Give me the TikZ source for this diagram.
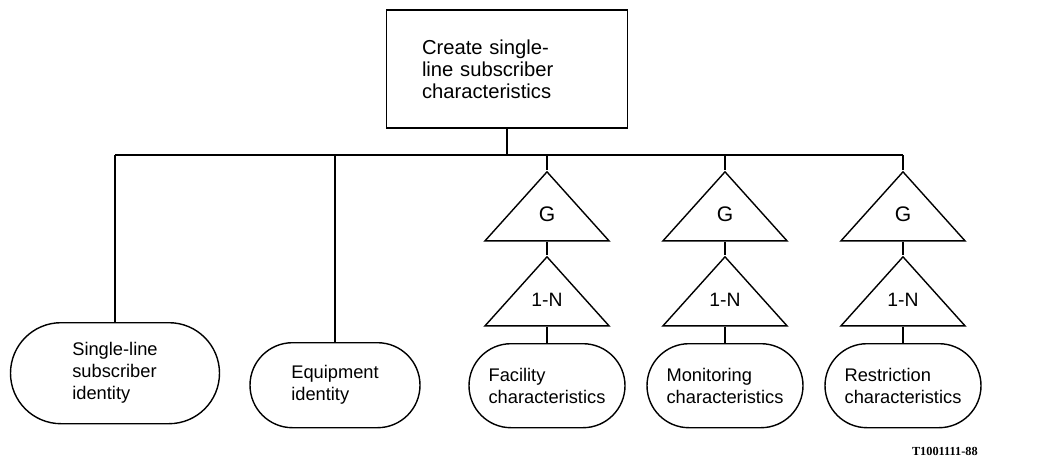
\documentclass[tikz,border=0pt]{standalone}
\usepackage{fontspec}
\setmainfont{Liberation Sans}
\newfontfamily\kodafont{Liberation Serif}
\usetikzlibrary{shapes.misc,shapes.geometric}
\tikzset{%
	crta/.style={black, line width=0.8pt},
	glava/.style={crta, draw, rectangle, minimum width=48.2mm, minimum height=23.6mm, text width=34mm, align=left, inner sep=0pt, font=\fontsize{11.5}{12.5}\selectfont},
	list/.style={crta, draw, rounded rectangle, align=left, inner sep=0pt, font=\fontsize{10.4}{12.5}\selectfont},
	trikotnik/.style={crta, draw, isosceles triangle, shape border rotate=90, isosceles triangle stretches, minimum width=24.8mm, minimum height=13.8mm, inner sep=0pt},
}

\begin{document}
\begin{tikzpicture}[x=0.2mm, y=-0.2mm]
			\useasboundingbox (0,0) rectangle (1039,461);
			
			%KOREN
			\node[glava] (koren) at (507,69) {Create single-\\line subscriber\\characteristics};
			
			%VODILO
			\coordinate (vodL) at (115,155);
			\coordinate (vodD) at (903,155);
			\draw[crta] (koren.south) -- (koren.south |- vodL);
			\draw[crta] (vodL) -- (vodD);
			
			%LISTI
			\node[list, minimum width=41.8mm, minimum height=20.2mm, anchor=north] (ident) at (115,322) {Single-line\\subscriber\\identity};
			\node[list, minimum width=34mm, minimum height=17mm, anchor=north] (oprema) at (335,342) {Equipment\\identity};
			\draw[crta] (vodL) -- (ident.north);
			\draw[crta] (oprema.north |- vodL) -- (oprema.north);
			
			%SKUPINE G, 1-N
			\foreach \x/\i/\ime in {547/1/Facility, 725/2/Monitoring, 903/3/Restriction}{
				\node[trikotnik, anchor=north, font=\fontsize{12}{14}\selectfont] (g\i) at (\x,170) {\raisebox{1pt}{G}};
				\node[trikotnik, anchor=north, font=\fontsize{11}{13}\selectfont] (n\i) at (\x,255) {\raisebox{3.5pt}{1-N}};
				\node[list, minimum width=31.2mm, minimum height=16.8mm, anchor=north] (k\i) at (\x,343) {\ime\\characteristics};
				\draw[crta] (g\i.north |- vodL) -- (g\i.north);
				\draw[crta] (g\i.south) -- (n\i.north);
				\draw[crta] (n\i.south) -- (k\i.north);
			}
			
			%OZNAKA
			\node[anchor=east, inner sep=0pt, font=\kodafont\bfseries\fontsize{7}{8}\selectfont] (oznaka) at (978,451) {T1001111-88};
\end{tikzpicture}
\end{document}
